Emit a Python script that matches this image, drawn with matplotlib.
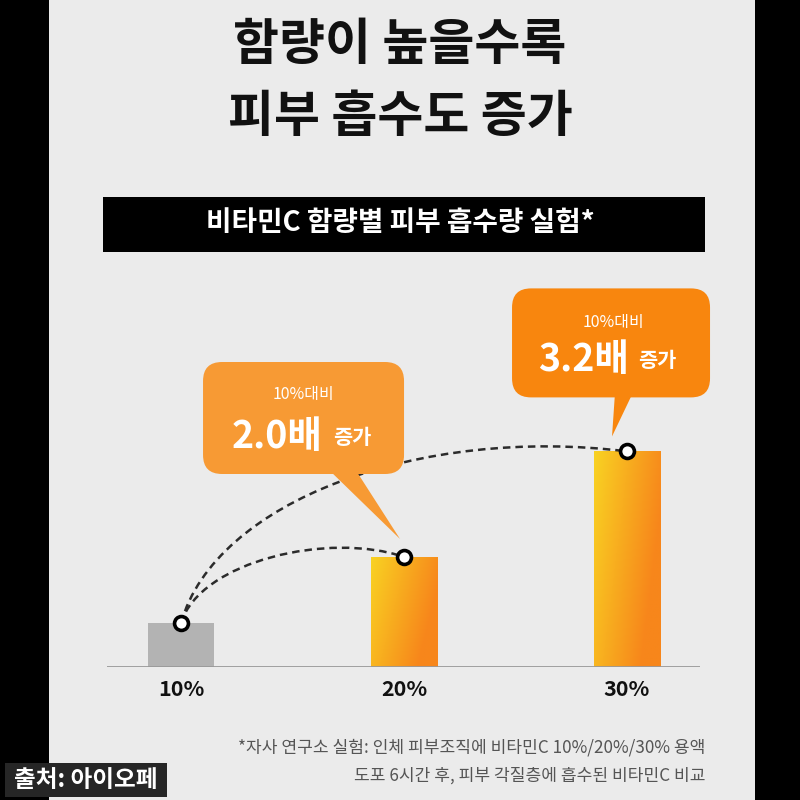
import matplotlib
matplotlib.use("Agg")
import matplotlib.pyplot as plt
import numpy as np
from matplotlib.patches import Rectangle, FancyBboxPatch, Polygon
from matplotlib.path import Path
from matplotlib.patches import PathPatch
from matplotlib.transforms import IdentityTransform

plt.rcParams['font.family'] = ['Noto Sans CJK KR', 'DejaVu Sans']

# data
categories = ['10%', '20%', '30%']
absorption = [1.0, 2.5, 4.9]          # relative bar heights as drawn
callout_top = ['10%대비', '10%대비']
callout_value = ['2.0배', '3.2배']
callout_unit = ['증가', '증가']
title_lines = ['함량이 높을수록', '피부 흡수도 증가']
banner = '비타민C 함량별 피부 흡수량 실험*'
footnote = ['*자사 연구소 실험: 인체 피부조직에 비타민C 10%/20%/30% 용액',
            '도포 6시간 후, 피부 각질층에 흡수된 비타민C 비교']
source = '출처: 아이오페'

W, H = 800, 800
fig = plt.figure(figsize=(8, 8), dpi=100)
fig.patch.set_facecolor('black')
fig.patches.append(Rectangle((49 / W, 0), (755 - 49) / W, 1, transform=fig.transFigure,
                             facecolor='#ebebeb', edgecolor='none', zorder=-10))

def fy(py):
    return 1 - py / H

# title
fig.text(0.5, fy(46), title_lines[0], ha='center', va='center', fontsize=36, weight='bold', color='#111111')
fig.text(0.5, fy(117), title_lines[1], ha='center', va='center', fontsize=36, weight='bold', color='#111111')

# banner
fig.patches.append(Rectangle((103 / W, fy(252)), (705 - 103) / W, 55 / H, transform=fig.transFigure,
                             facecolor='black', edgecolor='none'))
fig.text(0.5, fy(223), banner, ha='center', va='center', fontsize=20, weight='bold', color='white')

# bar axes
ax = fig.add_axes([107 / W, fy(667), 593 / W, 387 / H])
ax.set_facecolor('none')
x = np.arange(len(categories))
bw = 0.30
bars = ax.bar(x, absorption, width=bw, color=['#b3b3b3', 'none', 'none'], edgecolor='none', zorder=2)

# gradient fill for the orange bars
gy, gx = np.mgrid[0:1:100j, 0:1:60j]
w = np.clip(0.85 * (1 - gx) + 0.35 * gy - 0.25, 0, 1)
yellow = np.array([249, 214, 35]) / 255
orange = np.array([247, 134, 27]) / 255
grad = orange[None, None, :] * (1 - w[..., None]) + yellow[None, None, :] * w[..., None]
for i in [1, 2]:
    im = ax.imshow(grad, extent=(x[i] - bw / 2, x[i] + bw / 2, 0, absorption[i]),
                   origin='lower', aspect='auto', zorder=2)
    im.set_clip_path(bars[i])

ax.set_xlim(-0.332, -0.332 + 593 / 223)
ax.set_ylim(0, 387 / 44)
ax.axhline(0, color='#999999', lw=2, zorder=3)
for s in ax.spines.values():
    s.set_visible(False)
ax.set_yticks([])
ax.set_xticks(x)
ax.set_xticklabels(categories, fontsize=15.5, weight='bold', color='#111111')
ax.tick_params(axis='x', length=0, pad=9)

# dashed arcs from 10% to 20% and 30%
def arc(i, j, a1, b1, a2, b2):
    x0, y0 = x[i], absorption[i]
    x1, y1 = x[j], absorption[j]
    verts = [(x0, y0),
             (x0 + a1 * (x1 - x0), y0 + b1 * (y1 - y0)),
             (x0 + a2 * (x1 - x0), y0 + b2 * (y1 - y0)),
             (x1, y1)]
    p = Path(verts, [Path.MOVETO, Path.CURVE4, Path.CURVE4, Path.CURVE4])
    ax.add_patch(PathPatch(p, facecolor='none', edgecolor='#2b2b2b', lw=1.8,
                           linestyle=(0, (3, 2)), zorder=4))

arc(0, 1, 0.085, 0.94, 0.668, 1.39)
arc(0, 2, 0.076, 0.71, 0.536, 1.15)

ax.plot(x, absorption, linestyle='none', marker='o', markersize=10, markerfacecolor='white',
        markeredgecolor='black', markeredgewidth=2.6, zorder=6)

# speech bubbles (offsets in pixels from the bar tops)
fig.canvas.draw()
bubbles = [
    dict(bar=1, tip=(-4, 18), box=(-197, 4, 65, 177), base=(-72, -45), color='#f79a34',
         top=(-97, 144), val=(-77, 91), unit=(-67, 91)),
    dict(bar=2, tip=(-15, 15), box=(-100, 98, 39, 148), base=(3, 21), color='#f8860e',
         top=(1, 114), val=(17, 65), unit=(26, 65)),
]
for k, b in enumerate(bubbles):
    dx, dy = ax.transData.transform((x[b['bar']], absorption[b['bar']]))
    tx, ty = dx + b['tip'][0], dy + b['tip'][1]
    x0, x1, y0, y1 = b['box']
    box = FancyBboxPatch((tx + x0, ty + y0), x1 - x0, y1 - y0,
                         boxstyle='round,pad=0,rounding_size=19', transform=IdentityTransform(),
                         facecolor=b['color'], edgecolor='none', zorder=5)
    tail = Polygon([(tx, ty), (tx + b['base'][0], ty + y0 + 5), (tx + b['base'][1], ty + y0 + 5)],
                   closed=True, transform=IdentityTransform(), facecolor=b['color'],
                   edgecolor='none', zorder=5)
    fig.add_artist(box)
    fig.add_artist(tail)
    fig.text(tx + b['top'][0], ty + b['top'][1], callout_top[k], transform=IdentityTransform(),
             ha='center', va='center', fontsize=11.5, color='white', zorder=6)
    fig.text(tx + b['val'][0], ty + b['val'][1], callout_value[k], transform=IdentityTransform(),
             ha='right', va='baseline', fontsize=27, weight='bold', color='white', zorder=6)
    fig.text(tx + b['unit'][0], ty + b['unit'][1] + 4, callout_unit[k], transform=IdentityTransform(),
             ha='left', va='baseline', fontsize=15, weight='bold', color='white', zorder=6)

# footnote
fig.text(705 / W, fy(748), footnote[0], ha='right', va='center', fontsize=12.3, color='#555555')
fig.text(705 / W, fy(776), footnote[1], ha='right', va='center', fontsize=12.3, color='#555555')

# source tag
fig.patches.append(Rectangle((5 / W, fy(797)), 162 / W, 34 / H, transform=fig.transFigure,
                             facecolor='#262626', edgecolor='none', zorder=8))
fig.text(86 / W, fy(780), source, ha='center', va='center', fontsize=17, weight='bold',
         color='white', zorder=9)

fig.savefig('out.png', dpi=100, facecolor=fig.get_facecolor())
